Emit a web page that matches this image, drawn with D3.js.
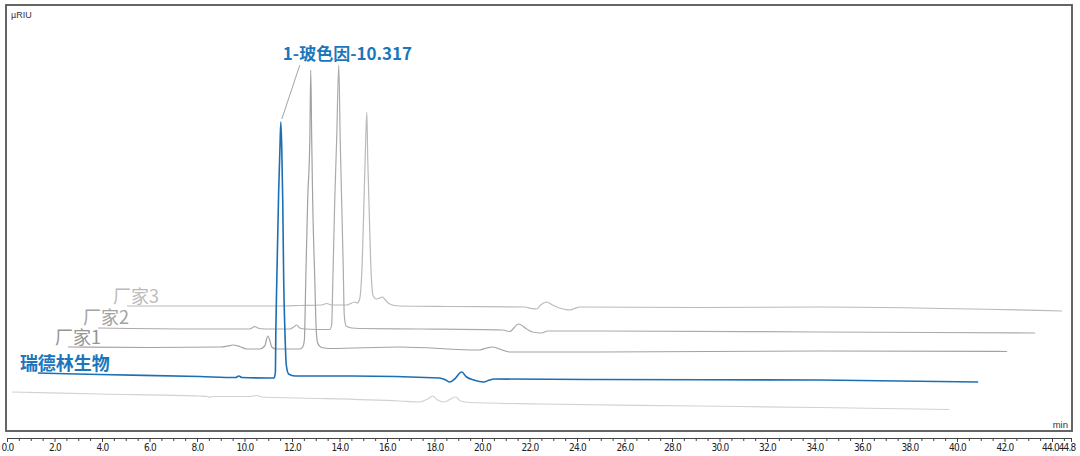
<!DOCTYPE html>
<html>
<head>
<meta charset="utf-8">
<script src="https://cdn.jsdelivr.net/npm/d3@7/dist/d3.min.js"></script>
<style>
  html, body { margin: 0; padding: 0; background: #fff; }
  svg { display: block; }
</style>
</head>
<body>
<svg id="chart" width="1080" height="456"></svg>
<script>
// ---------------- data (time in min as drawn, signal in µRIU as drawn) ----------------
const seriesNames = ["空白", "瑞德林生物", "厂家1", "厂家2", "厂家3"];

const blankTrace = [
  [0.21,80],[3.91,76],[8.12,72],[8.46,71],[8.54,69],[8.62,71],[10.22,71],[10.52,73],[10.73,70],
  [12.33,68],[16.53,62],[17.37,60],[17.71,66],[17.92,72],[18.13,64],[18.43,60],[18.68,66],
  [18.89,70],[19.10,62],[19.48,59],[22.42,56],[29.15,52],[34.20,49],[39.67,45]
];

const ruidelinTrace = [
  [1.30,118],[3.91,115],[8.12,111],[9.63,109],[9.76,112],[9.89,109],[11.06,108],[11.25,108],
  [11.30,120],[11.32,204],[11.36,304],[11.44,484],[11.49,564],[11.53,620],[11.57,564],[11.61,464],
  [11.65,304],[11.70,204],[11.76,134],[11.86,116],[12.12,112],[12.54,112],[14.51,112],[18.22,108],
  [18.47,104],[18.64,100],[18.85,106],[19.14,120],[19.35,110],[19.65,104],[20.07,100],[20.32,104],
  [20.49,106],[24.95,105],[34.20,104],[40.89,100]
];

const maker1Trace = [
  [2.57,170],[6.02,169],[8.96,170],[9.30,172],[9.51,174],[9.80,171],[10.10,166],[10.64,166],
  [10.85,172],[10.98,192],[11.06,184],[11.15,170],[11.32,166],[12.33,166],[12.45,170],[12.52,184],
  [12.58,304],[12.66,464],[12.75,584],[12.79,724],[12.83,584],[12.87,464],[12.96,304],[13.02,204],
  [13.08,178],[13.25,169],[13.59,167],[16.53,170],[19.90,164],[20.19,168],[20.45,170],[20.74,166],
  [21.16,160],[24.95,160],[34.20,162],[42.11,161]
];

const maker2Trace = [
  [3.83,208],[8.12,206],[10.22,206],[10.35,209],[10.43,211],[10.56,208],[10.85,206],[11.91,206],
  [12.07,210],[12.20,214],[12.33,208],[12.54,206],[13.59,205],[13.67,214],[13.72,304],[13.80,464],
  [13.88,584],[13.97,734],[14.03,584],[14.09,464],[14.16,324],[14.20,234],[14.28,212],[14.51,208],
  [14.85,207],[17.37,206],[20.87,204],[21.16,201],[21.54,216],[21.88,206],[22.13,200],[22.51,198],
  [22.76,202],[24.95,202],[34.20,200],[43.29,198]
];

const maker3Trace = [
  [5.05,252],[8.12,252],[11.49,252],[12.33,253],[13.25,254],[13.46,257],[13.67,254],[14.30,254],
  [14.64,260],[14.75,258],[14.85,266],[14.91,294],[14.96,344],[15.02,444],[15.08,544],[15.15,640],
  [15.19,544],[15.25,444],[15.31,344],[15.36,294],[15.42,272],[15.55,266],[15.70,268],[15.80,270],
  [15.90,266],[16.05,258],[16.30,253],[16.53,252],[18.64,251],[21.79,250],[22.09,247],[22.30,246],
  [22.47,254],[22.72,260],[22.97,254],[23.26,248],[23.52,245],[23.69,244],[23.90,247],[24.11,250],
  [29.15,249],[34.20,250],[44.43,242]
];

const traces = [blankTrace, ruidelinTrace, maker1Trace, maker2Trace, maker3Trace];

const xMajorTicks = [0,2,4,6,8,10,12,14,16,18,20,22,24,26,28,30,32,34,36,38,40,42,44,44.8];
const peakLabel = "1-玻色因-10.317";
const peakApex = [11.53, 620];   // apex of the blue peak (as drawn)
const xUnit = "min";
const yUnit = "µRIU";

// ---------------- styles / layout ----------------
const traceColors = ["#d2d2d2", "#1d6fb3", "#a2a2a2", "#ababab", "#bababa"];
const traceWidths = [1.2, 1.6, 1.2, 1.2, 1.2];
const labelColors = [null, "#1b76bc", "#959595", "#a3a3a3", "#bbbbbb"];
const labelWeights = [null, "bold", "normal", "normal", "normal"];
const labelSizes = [0, 18, 18, 18, 18];
const labelOffsets = [null, [-18, -3], [-13, -3], [-15, -4], [-14, -3]];

const frame = {left: 6, top: 5, right: 1072, bottom: 431};

const svg = d3.select("#chart");

const x = d3.scaleLinear().domain([0, 44.8]).range([7, 1071]);
const y = d3.scaleLinear().domain([0, 852]).range([432, 6]);

// frame
svg.append("rect")
  .attr("x", frame.left).attr("y", frame.top)
  .attr("width", frame.right - frame.left).attr("height", frame.bottom - frame.top)
  .attr("fill", "none").attr("stroke", "#555").attr("stroke-width", 1.8);

// axis
const axisY = 438;
const gAxis = svg.append("g").attr("transform", `translate(0,${axisY})`);
const minorTicks = d3.range(0, 44.8 + 1e-9, 0.5).filter(v => Math.abs(v % 2) > 1e-6);
gAxis.append("g")
  .call(d3.axisBottom(x).tickValues(minorTicks).tickSize(3).tickFormat(""))
  .call(g => g.select(".domain").remove())
  .selectAll("line").attr("stroke", "#444");
const gMaj = gAxis.append("g")
  .call(d3.axisBottom(x).tickValues(xMajorTicks).tickSize(4).tickSizeOuter(0).tickFormat(d3.format(".1f")));
gMaj.select(".domain").attr("stroke", "#444").attr("stroke-width", 1.2);
gMaj.selectAll(".tick line").attr("stroke", "#444");
gMaj.selectAll(".tick text")
  .attr("font-family", "'DejaVu Sans Condensed', 'Liberation Sans Narrow', sans-serif")
  .attr("font-size", 10)
  .attr("letter-spacing", "-0.8px")
  .attr("fill", "#222")
  .attr("y", 5.5)
  .attr("text-anchor", d => d === 44.8 ? "end" : "middle")
  .attr("dx", d => d === 44.8 ? 4 : (d === 44 ? -2 : 0));

// unit labels
svg.append("text").attr("x", 11).attr("y", 18)
  .attr("font-family", "'Liberation Sans', Arial, sans-serif").attr("font-size", 9)
  .attr("fill", "#333").text(yUnit);
svg.append("text").attr("x", 1068).attr("y", 428).attr("text-anchor", "end")
  .attr("font-family", "'Liberation Sans', Arial, sans-serif").attr("font-size", 9.5)
  .attr("fill", "#333").text(xUnit);

// traces
const line = d3.line().x(d => x(d[0])).y(d => y(d[1])).curve(d3.curveMonotoneX);
const order = [0, 4, 3, 2, 1];
order.forEach(i => {
  svg.append("path")
    .datum(traces[i])
    .attr("d", line)
    .attr("fill", "none")
    .attr("stroke", traceColors[i])
    .attr("stroke-width", traceWidths[i])
    .attr("stroke-linejoin", "round");
});

// series labels
const cjk = "'Noto Sans CJK SC', 'Noto Sans', sans-serif";
for (let i = 1; i < traces.length; i++) {
  const p = traces[i][0];
  svg.append("text")
    .attr("x", x(p[0]) + labelOffsets[i][0])
    .attr("y", y(p[1]) + labelOffsets[i][1])
    .attr("font-family", cjk)
    .attr("font-size", labelSizes[i])
    .attr("font-weight", labelWeights[i])
    .attr("fill", labelColors[i])
    .text(seriesNames[i]);
}

// peak annotation
const ax = x(peakApex[0]), ay = y(peakApex[1]);
svg.append("line")
  .attr("x1", ax + 19).attr("y1", ay - 57)
  .attr("x2", ax + 1).attr("y2", ay - 3)
  .attr("stroke", "#8a8a8a").attr("stroke-width", 0.8);
svg.append("text")
  .attr("x", ax + 2).attr("y", ay - 62)
  .attr("font-family", cjk)
  .attr("font-size", 17)
  .attr("font-weight", "bold")
  .attr("fill", "#1b76bc")
  .text(peakLabel);
</script>
</body>
</html>
